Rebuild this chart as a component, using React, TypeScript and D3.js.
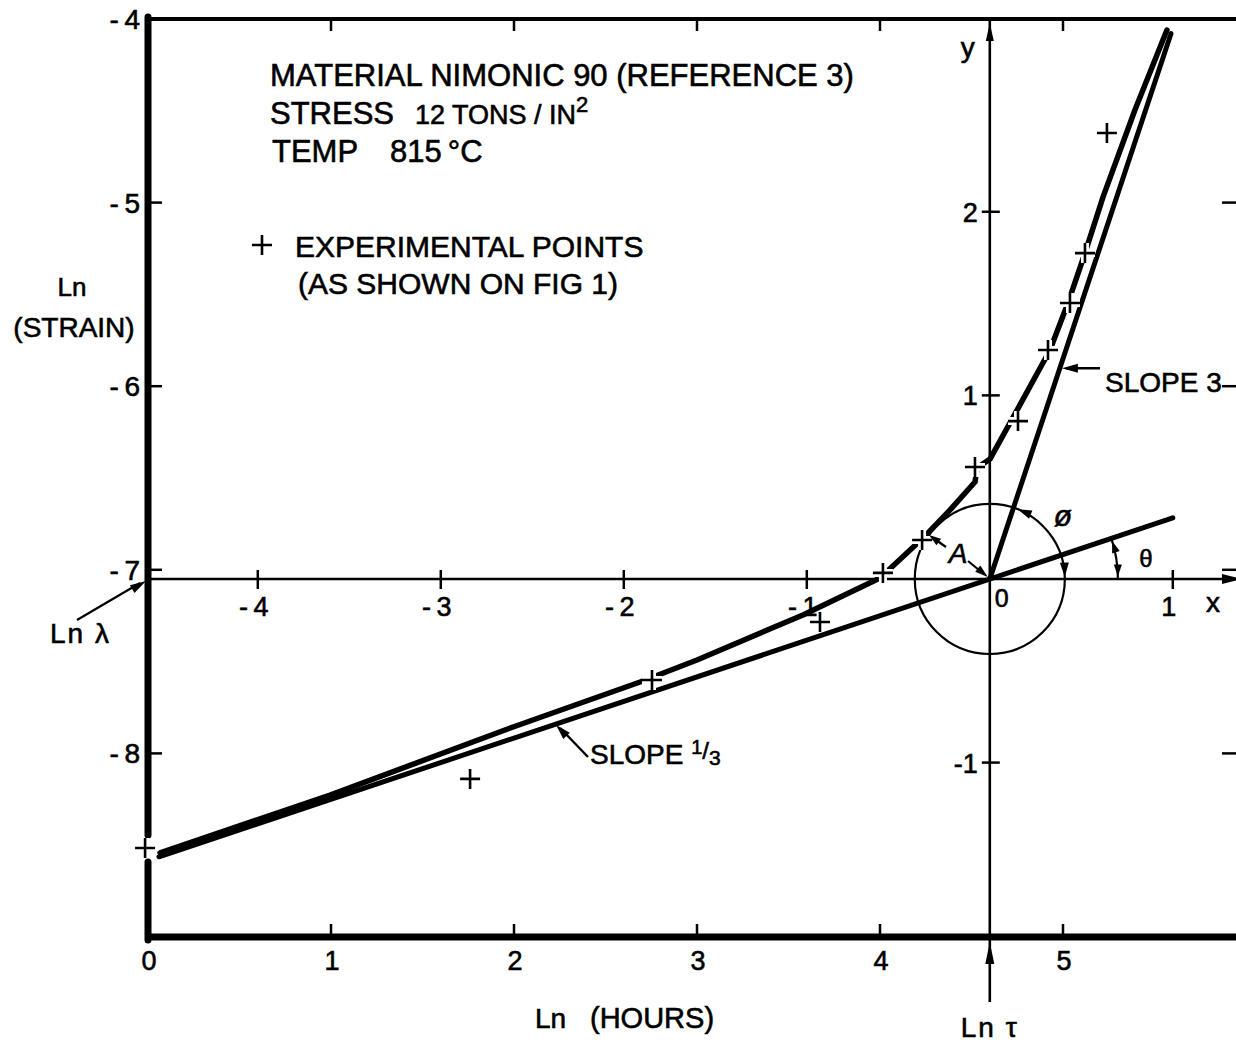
import React, { useEffect, useRef } from 'react';
import * as d3 from 'd3';

const W = 1236;
const H = 1044;
const FONT = "'Liberation Sans', Arial, Helvetica, sans-serif";

// primary axes: Ln (hours) / Ln (strain)
const xTicks = [0, 1, 2, 3, 4, 5];
const yTicks = [-4, -5, -6, -7, -8];

// origin O of the reduced x, y axes (Ln tau, Ln lambda)
const lnTau = 4.6;
const lnLambda = -7.05;
const xsTicks = [-4, -3, -2, -1, 1];
const ysTicks = [2, 1, -1];

// experimental points (as shown on fig 1)
const expLnHours = [-0.016, 1.76, 2.754, 3.672, 4.016, 4.23, 4.519, 4.754, 4.918, 5.038, 5.12, 5.24];
const expLnStrain = [-8.515, -8.139, -7.6, -7.284, -7.017, -6.838, -6.44, -6.19, -5.803, -5.547, -5.275, -4.621];

// fitted curve
const curveLnHours = [0.066, 0.995, 1.995, 2.689, 3.0, 3.579, 4.0, 4.235, 4.383, 4.519, 4.53, 4.601, 4.749, 4.929, 5.027, 5.12, 5.219, 5.393, 5.568];
const curveLnStrain = [-8.542, -8.227, -7.856, -7.611, -7.491, -7.246, -7.045, -6.827, -6.674, -6.522, -6.446, -6.397, -6.13, -5.803, -5.547, -5.275, -4.969, -4.496, -4.06];

// asymptotes, in reduced coordinates
const slopeThirdX = [-4.54, 1.0];
const slopeThirdY = [-1.513, 0.333];
const slopeThreeX = [0, 0.99];
const slopeThreeY = [0, 2.97];

const circleR = 0.41;

const App: React.FC = () => {
  const svgRef = useRef<SVGSVGElement>(null);

  useEffect(() => {
    if (!svgRef.current) return;
    const svg = d3.select(svgRef.current);
    svg.selectAll('*').remove();

    const x = d3.scaleLinear().domain([0, 6]).range([148, 1246]);
    const y = d3.scaleLinear().domain([-9, -4]).range([937, 19]);
    const xs = (v: number) => x(lnTau + v);
    const ys = (v: number) => y(lnLambda + v);
    const ox = xs(0);
    const oy = ys(0);
    const unit = x(1) - x(0);

    svg.append('rect').attr('width', W).attr('height', H).attr('fill', '#fff');

    const head = (g: any, tx: number, ty: number, ang: number, len = 15, wid = 9) => {
      const bx = tx - len * Math.cos(ang);
      const by = ty - len * Math.sin(ang);
      const nx = -Math.sin(ang) * wid / 2;
      const ny = Math.cos(ang) * wid / 2;
      g.append('path')
        .attr('d', `M${tx},${ty}L${bx + nx},${by + ny}L${bx - nx},${by - ny}Z`)
        .attr('fill', '#000');
    };

    // reduced axes x, y through O
    const red = svg.append('g').attr('stroke', '#000').attr('fill', 'none');
    red.append('line').attr('x1', x(0)).attr('x2', W).attr('y1', oy).attr('y2', oy).attr('stroke-width', 2.6);
    red.append('line').attr('x1', ox).attr('x2', ox).attr('y1', y(-4)).attr('y2', 1002).attr('stroke-width', 2.6);
    xsTicks.forEach(v => {
      red.append('line').attr('x1', xs(v)).attr('x2', xs(v)).attr('y1', oy - 9).attr('y2', oy + 10).attr('stroke-width', 2.5);
    });
    ysTicks.forEach(v => {
      red.append('line').attr('x1', ox - 8).attr('x2', ox + 10).attr('y1', ys(v)).attr('y2', ys(v)).attr('stroke-width', 2.5);
    });
    head(svg, W + 6, oy, 0, 20, 10);
    head(svg, ox, y(-4) + 4, -Math.PI / 2, 18, 8);
    head(svg, ox, y(-9) + 5, -Math.PI / 2, 22, 9);

    // circle round O
    red.append('circle').attr('cx', ox).attr('cy', oy).attr('r', circleR * unit).attr('stroke-width', 2.2);

    // angle phi arrows on the circle
    const r1 = circleR * unit;
    const a1 = Math.atan(3) - 0.06;
    head(svg, ox + r1 * Math.cos(a1), oy - r1 * Math.sin(a1), Math.atan2(-Math.cos(a1), -Math.sin(a1)), 14, 9);
    const a2 = 0.03;
    head(svg, ox + r1 * Math.cos(a2), oy - r1 * Math.sin(a2), Math.atan2(Math.cos(a2), Math.sin(a2)), 14, 9);

    // angle theta arc
    const r2 = 0.7 * unit;
    const th = Math.atan(1 / 3);
    const p = d3.path();
    p.arc(ox, oy, r2, 0, -th, true);
    red.append('path').attr('d', p.toString()).attr('stroke-width', 2.2);
    head(svg, ox + r2 * Math.cos(0.02), oy - r2 * Math.sin(0.02), Math.PI / 2, 12, 8);
    head(svg, ox + r2 * Math.cos(th - 0.02), oy - r2 * Math.sin(th - 0.02), -Math.PI / 2 - th, 12, 8);

    // asymptotes
    const lines = svg.append('g').attr('stroke', '#000').attr('fill', 'none').attr('stroke-linecap', 'round');
    lines.append('line')
      .attr('x1', xs(slopeThirdX[0])).attr('y1', ys(slopeThirdY[0]))
      .attr('x2', xs(slopeThirdX[1])).attr('y2', ys(slopeThirdY[1]))
      .attr('stroke-width', 5);
    lines.append('line')
      .attr('x1', xs(slopeThreeX[0])).attr('y1', ys(slopeThreeY[0]))
      .attr('x2', xs(slopeThreeX[1])).attr('y2', ys(slopeThreeY[1]))
      .attr('stroke-width', 5);

    // fitted curve
    const line = d3.line<number>()
      .x((_, i) => x(curveLnHours[i]))
      .y(d => y(d));
    lines.append('path').attr('d', line(curveLnStrain)).attr('stroke-width', 5.5).attr('stroke-linejoin', 'round');

    // frame; the left axis is broken where the first point sits on it
    const frame = svg.append('g').attr('stroke', '#000');
    const brk = y(expLnStrain[0]);
    frame.append('line').attr('x1', x(0)).attr('x2', x(0)).attr('y1', y(-4) - 2).attr('y2', brk - 13).attr('stroke-width', 7).attr('stroke-linecap', 'round');
    frame.append('line').attr('x1', x(0)).attr('x2', x(0)).attr('y1', brk + 14).attr('y2', y(-9) + 3).attr('stroke-width', 7).attr('stroke-linecap', 'round');
    frame.append('line').attr('x1', x(0) - 3).attr('x2', W).attr('y1', y(-9)).attr('y2', y(-9)).attr('stroke-width', 7);
    frame.append('line').attr('x1', x(0)).attr('x2', W).attr('y1', y(-4)).attr('y2', y(-4)).attr('stroke-width', 4);
    xTicks.filter(v => v > 0).forEach(v => {
      frame.append('line').attr('x1', x(v)).attr('x2', x(v)).attr('y1', y(-9)).attr('y2', y(-9) - 13).attr('stroke-width', 2.5);
      frame.append('line').attr('x1', x(v)).attr('x2', x(v)).attr('y1', y(-4)).attr('y2', y(-4) + 12).attr('stroke-width', 2.5);
    });
    yTicks.forEach(v => {
      frame.append('line').attr('x1', x(0)).attr('x2', x(0) + 14).attr('y1', y(v)).attr('y2', y(v)).attr('stroke-width', 2.5);
      frame.append('line').attr('x1', x(6)).attr('x2', x(6) - 24).attr('y1', y(v)).attr('y2', y(v)).attr('stroke-width', 2.5);
    });

    // experimental points
    const cross = (cx: number, cy: number) => {
      const s = 10;
      const gc = svg.append('g').attr('fill', 'none');
      gc.append('path').attr('d', `M${cx - s},${cy}H${cx + s}M${cx},${cy - s}V${cy + s}`)
        .attr('stroke', '#fff').attr('stroke-width', 8);
      gc.append('path').attr('d', `M${cx - s},${cy}H${cx + s}M${cx},${cy - s}V${cy + s}`)
        .attr('stroke', '#000').attr('stroke-width', 2.6);
    };
    expLnHours.forEach((h, i) => cross(x(h), y(expLnStrain[i])));

    // text
    const txt = (tx: number, ty: number, s: string, size = 28, anchor = 'start') =>
      svg.append('text')
        .attr('x', tx).attr('y', ty)
        .attr('font-family', FONT).attr('font-size', size)
        .attr('text-anchor', anchor).attr('fill', '#000')
        .attr('stroke', '#000').attr('stroke-width', 0.6)
        .text(s);

    yTicks.forEach(v => {
      txt(x(0) - 8, y(v) + 10, `-\u2009${Math.abs(v)}`, 28, 'end');
    });
    xTicks.forEach(v => {
      txt(x(v) + 1, y(-9) + 33, String(v), 27, 'middle');
    });
    xsTicks.forEach(v => {
      txt(xs(v) - 4, oy + 37, v < 0 ? `-\u2009${Math.abs(v)}` : String(v), 27, 'middle');
    });
    txt(ox + 12, oy + 28, '0', 25, 'middle');
    ysTicks.forEach(v => {
      txt(ox - 12, ys(v) + 10, v < 0 ? `-${Math.abs(v)}` : String(v), 27, 'end');
    });

    txt(270, 86, 'MATERIAL NIMONIC 90 (REFERENCE 3)', 31);
    const st = txt(270, 124, 'STRESS', 31);
    st.append('tspan').attr('x', 415).attr('font-size', 27).text('12 TONS / IN');
    st.append('tspan').attr('dy', -12).attr('font-size', 22).text('2');
    const te = txt(272, 162, 'TEMP', 31);
    te.append('tspan').attr('x', 390).text('815');
    te.append('tspan').attr('dx', 6).text('°C');
    cross(262, 245);
    txt(295, 257, 'EXPERIMENTAL POINTS', 30);
    txt(298, 294, '(AS SHOWN ON FIG 1)', 30);

    txt(72, 296, 'Ln', 26, 'middle');
    txt(74, 337, '(STRAIN)', 28, 'middle');
    txt(50, 643, 'Ln  λ', 28).attr('letter-spacing', 2);
    svg.append('line').attr('x1', 77).attr('y1', 620).attr('x2', x(0) - 8).attr('y2', oy + 4).attr('stroke', '#000').attr('stroke-width', 2.2);
    head(svg, x(0) - 2, oy + 2, Math.atan2(oy + 4 - 620, x(0) - 8 - 77), 16, 9);

    txt(535, 1028, 'Ln', 28);
    txt(590, 1028, '(HOURS)', 29);
    txt(ox, 1037, 'Ln τ', 28, 'middle').attr('letter-spacing', 2);
    txt(ox - 22, 57, 'y', 28, 'middle');
    txt(1213, 612, 'x', 28, 'middle');

    // slope labels with leader arrows
    const s3x = 0.383;
    const s3y = 1.148;
    svg.append('line').attr('x1', 1100).attr('x2', xs(s3x) + 6).attr('y1', ys(s3y)).attr('y2', ys(s3y)).attr('stroke', '#000').attr('stroke-width', 2.4);
    head(svg, xs(s3x) + 2, ys(s3y), Math.PI, 16, 9);
    txt(1105, 392, 'SLOPE 3', 28);

    const s1x = -2.37;
    const s1y = -0.79;
    svg.append('line').attr('x1', 588).attr('y1', 757).attr('x2', xs(s1x) + 4).attr('y2', ys(s1y) + 4).attr('stroke', '#000').attr('stroke-width', 2.4);
    head(svg, xs(s1x), ys(s1y) + 1, Math.atan2(ys(s1y) - 757, xs(s1x) - 588), 15, 9);
    const sl = txt(590, 764, 'SLOPE ', 28);
    sl.append('tspan').attr('dy', -10).attr('font-size', 20).text('1');
    sl.append('tspan').attr('dy', 5).attr('font-size', 24).text('/');
    sl.append('tspan').attr('dy', 6).attr('font-size', 21).text('3');

    // A with two leader arrows
    txt(958, 563, 'A', 28, 'middle').attr('font-style', 'italic');
    svg.append('line').attr('x1', 946).attr('y1', 547).attr('x2', 936).attr('y2', 540).attr('stroke', '#000').attr('stroke-width', 2.2);
    head(svg, 929, 535, Math.atan2(-12, -17), 12, 8);
    svg.append('line').attr('x1', 968).attr('y1', 561).attr('x2', ox - 6).attr('y2', oy - 5).attr('stroke', '#000').attr('stroke-width', 2.2);
    head(svg, ox - 2, oy - 2, Math.atan2(oy - 561, ox - 968), 13, 8);

    txt(1063, 526, 'ø', 30, 'middle').attr('font-style', 'italic');
    txt(1146, 567, 'θ', 24, 'middle');
  }, []);

  return (
    <svg
      ref={svgRef}
      width={W}
      height={H}
      style={{ position: 'absolute', left: 0, top: 0, display: 'block', background: '#fff' }}
    />
  );
};

export default App;
